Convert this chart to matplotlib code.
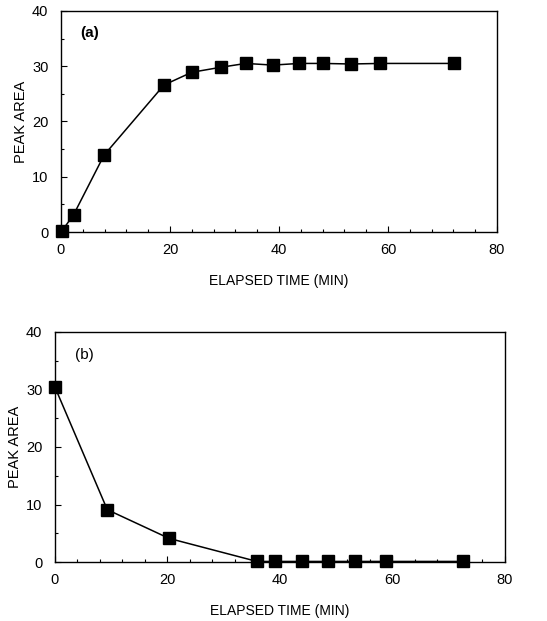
import matplotlib
matplotlib.use("Agg")
from matplotlib import pyplot as plt
from matplotlib.ticker import MultipleLocator

plt.rcParams['font.family'] = ['Liberation Sans', 'DejaVu Sans']
plt.rcParams['font.size'] = 10

# panel (a): peak area rising with elapsed time
time_a = [0.1, 2.3, 7.9, 18.9, 24.0, 29.3, 33.9, 38.9, 43.7, 48.1, 53.2, 58.6, 72.2]
area_a = [0.1, 3.1, 13.9, 26.6, 28.9, 29.8, 30.5, 30.2, 30.5, 30.5, 30.4, 30.5, 30.5]

# panel (b): peak area decaying with elapsed time
time_b = [0.0, 9.3, 20.3, 35.9, 39.1, 43.9, 48.5, 53.3, 58.8, 72.5]
area_b = [30.4, 9.1, 4.1, 0.1, 0.1, 0.1, 0.1, 0.1, 0.1, 0.1]

fig = plt.figure(figsize=(5.47, 6.21), dpi=100)
ax1 = fig.add_axes([0.1115, 0.6264, 0.797, 0.356])
ax2 = fig.add_axes([0.1005, 0.095, 0.8227, 0.3704])


def style_axis(ax, x, y, tag, bold):
    ax.plot(x, y, color='black', lw=1.1, marker='s', markersize=8,
            markerfacecolor='black', markeredgecolor='black', clip_on=False, zorder=3)
    ax.set_xlim(0, 80)
    ax.set_ylim(0, 40)
    ax.xaxis.set_major_locator(MultipleLocator(20))
    ax.xaxis.set_minor_locator(MultipleLocator(4))
    ax.yaxis.set_major_locator(MultipleLocator(10))
    ax.yaxis.set_minor_locator(MultipleLocator(5))
    ax.tick_params(which='both', direction='in', top=False, right=False)
    ax.tick_params(which='major', length=4, width=0.8, labelsize=10.5)
    ax.tick_params(axis='x', which='major', pad=8)
    ax.tick_params(axis='y', which='major', pad=9)
    ax.tick_params(which='minor', length=2.5, width=0.8)
    for s in ax.spines.values():
        s.set_linewidth(1.0)
    ax.set_xlabel('ELAPSED TIME (MIN)', fontsize=10, labelpad=12)
    ax.set_ylabel('PEAK AREA', fontsize=10.5, labelpad=3)
    ax.text(3.5, 36, tag, fontsize=11, fontweight='bold' if bold else 'normal',
            va='center', ha='left')


style_axis(ax1, time_a, area_a, '(a)', True)
style_axis(ax2, time_b, area_b, '(b)', False)

fig.savefig('out.png', dpi=100)
